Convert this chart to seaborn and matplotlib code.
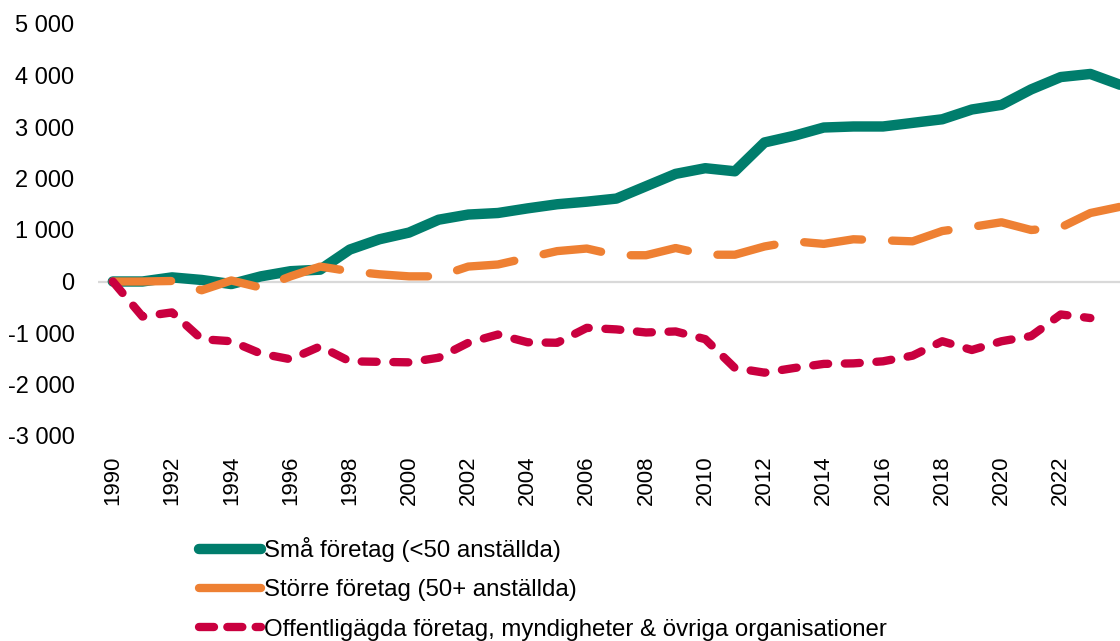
import matplotlib
matplotlib.use("Agg")
import matplotlib.pyplot as plt
import seaborn as sns
import pandas as pd
from matplotlib.lines import Line2D
from matplotlib.ticker import FuncFormatter

years = list(range(1990, 2025))
sma = [0, 0, 80, 30, -50, 100, 200, 230, 620, 820, 950, 1200, 1300, 1330, 1420,
       1500, 1550, 1610, 1850, 2090, 2200, 2140, 2700, 2830, 2990, 3010, 3010,
       3080, 3150, 3340, 3430, 3730, 3970, 4030, 3820]
storre = [0, 0, 10, -170, 20, -120, 100, 290, 200, 140, 100, 100, 290, 330, 460,
          590, 640, 510, 510, 650, 520, 520, 680, 780, 730, 820, 800, 780, 980,
          1060, 1150, 1000, 1050, 1330, 1450]
offentlig_years = list(range(1990, 2024))
offentlig = [0, -680, -600, -1120, -1160, -1400, -1510, -1260, -1550, -1560, -1570,
             -1480, -1190, -1030, -1180, -1190, -900, -930, -990, -970, -1120,
             -1680, -1770, -1680, -1600, -1590, -1550, -1440, -1160, -1330, -1160,
             -1060, -640, -710]
labels = ["Små företag (<50 anställda)",
          "Större företag (50+ anställda)",
          "Offentligägda företag, myndigheter & övriga organisationer"]
yticks = [-3000, -2000, -1000, 0, 1000, 2000, 3000, 4000, 5000]
xticks = list(range(1990, 2023, 2))

green = "#007D6C"
orange = "#EE8033"
red = "#C9003F"

sns.set_theme(style="white")
plt.rcParams['font.family'] = ['Liberation Sans', 'DejaVu Sans']
plt.rcParams['text.color'] = 'black'

fig = plt.figure(figsize=(11.2, 6.41), dpi=100)
ax = fig.add_axes([98/1120, 1-436/641, 1-98/1120, (436-24)/641])

df1 = pd.DataFrame({"year": years, "value": sma})
df2 = pd.DataFrame({"year": years, "value": storre})
df3 = pd.DataFrame({"year": offentlig_years, "value": offentlig})

ax.axhline(0, color="#D9D9D9", lw=1.6, zorder=1)

sns.lineplot(data=df1, x="year", y="value", ax=ax, color=green, lw=7.5,
             solid_capstyle="round", solid_joinstyle="round", zorder=3)
l2 = sns.lineplot(data=df2, x="year", y="value", ax=ax, color=orange, lw=6,
                  zorder=4).lines[-1]
l2.set_dashes((7, 3.6))
l2.set_dash_capstyle("round")
l2.set_dash_joinstyle("round")
l3 = sns.lineplot(data=df3, x="year", y="value", ax=ax, color=red, lw=6,
                  zorder=5).lines[-1]
l3.set_dashes((1.8, 2.0))
l3.set_dash_capstyle("round")
l3.set_dash_joinstyle("round")

ax.set_xlim(1989.5, 2024)
ax.set_ylim(-3000, 5000)
ax.set_yticks(yticks)
ax.set_xticks(xticks)
ax.yaxis.set_major_formatter(FuncFormatter(lambda v, p: f"{int(v):,}".replace(",", " ")))
ax.tick_params(axis="y", labelsize=17, pad=17, length=0, colors="black")
ax.tick_params(axis="x", labelsize=16, pad=14, length=0, colors="black", labelrotation=90)
for s in ax.spines.values():
    s.set_visible(False)
ax.set_xlabel("")
ax.set_ylabel("")
ax.grid(False)

h1 = Line2D([0], [0], color=green, lw=7.5, solid_capstyle="round")
h2 = Line2D([0], [0], color=orange, lw=6, solid_capstyle="round")
h3 = Line2D([0], [0], color=red, lw=6, dash_capstyle="round", dashes=(1.8, 1.6))
leg = fig.legend([h1, h2, h3], labels, loc="upper left",
                 bbox_to_anchor=(199/1120, 1-537/641), frameon=False,
                 fontsize=17.3, handlelength=2.6, handletextpad=0.12,
                 labelspacing=0.72, borderpad=0, borderaxespad=0)
for t in leg.get_texts():
    t.set_color("black")

fig.savefig("out.png", dpi=100)
